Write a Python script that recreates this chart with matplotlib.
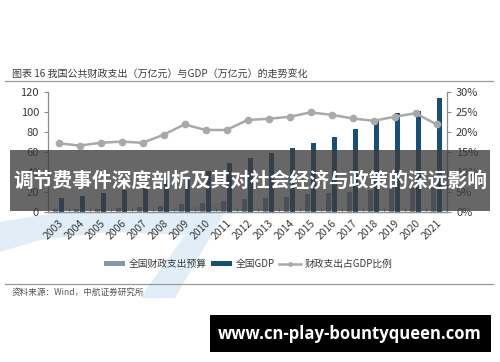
import matplotlib
matplotlib.use('Agg')
import matplotlib.pyplot as plt
import numpy as np
from matplotlib.patches import Rectangle, Polygon
from matplotlib.ticker import FuncFormatter

plt.rcParams['font.family'] = ['Noto Sans CJK SC', 'DejaVu Sans']

# values
years = [str(y) for y in range(2003, 2022)]
fiscal = [2.5, 2.8, 3.4, 4.0, 5.0, 6.3, 7.6, 9.0, 10.9, 12.6, 14.0, 15.2,
          17.6, 18.8, 20.3, 22.1, 23.9, 24.6, 24.6]
gdp = [14.0, 16.3, 18.7, 21.9, 27.0, 31.9, 34.9, 41.2, 48.8, 53.9, 59.3, 64.3,
       68.7, 74.7, 83.0, 91.0, 98.7, 101.3, 114.3]
ratio = [17.2, 16.6, 17.3, 17.6, 17.3, 19.3, 21.9, 20.5, 20.5, 23.0, 23.3, 23.8,
         24.9, 24.3, 23.4, 22.8, 23.8, 24.7, 21.9]

W, H = 500, 362
fig = plt.figure(figsize=(W / 100, H / 100), dpi=100)


def fx(x):
    return x / W


def fy(y):
    return 1 - y / H


# light blue watermark swoosh in the background
swoosh = Polygon([(fx(0), fy(222)), (fx(60), fy(212)), (fx(140), fy(214)),
                  (fx(215), fy(203)), (fx(230), fy(203)), (fx(175), fy(298)),
                  (fx(140), fy(298)), (fx(185), fy(235)), (fx(110), fy(232)),
                  (fx(40), fy(240)), (fx(0), fy(252))],
                 closed=True, transform=fig.transFigure, facecolor='#e1eef8',
                 edgecolor='none', zorder=-1)
fig.patches.append(swoosh)

ax = fig.add_axes([fx(48), fy(212), (447 - 48) / W, (212 - 92) / H])
ax.patch.set_alpha(0)
x = np.arange(len(years))
w = 0.26
ax.bar(x - 0.14, fiscal, w, color='#8496ae', label='全国财政支出预算', zorder=2)
ax.bar(x + 0.14, gdp, w, color='#164f78', label='全国GDP', zorder=2)
ax.set_xlim(-0.5, len(years) - 0.5)
ax.set_ylim(0, 120)
ax.set_yticks(range(0, 121, 20))

ax2 = ax.twinx()
ax2.plot(x, ratio, color='#a9a9a9', lw=1.8, marker='o', ms=4.5,
         label='财政支出占GDP比例', zorder=3)
ax2.set_ylim(0, 30)
ax2.set_yticks(range(0, 31, 5))
ax2.yaxis.set_major_formatter(FuncFormatter(lambda v, p: f'{int(v)}%'))

for a in (ax, ax2):
    a.spines['top'].set_visible(False)
    for s in a.spines.values():
        s.set_color('#8c8c8c')
        s.set_linewidth(0.9)
    a.tick_params(axis='y', colors='#8c8c8c', labelcolor='#3a3a3a',
                  labelsize=8, length=3, width=0.8)
ax.spines['right'].set_visible(False)
ax2.spines['left'].set_visible(False)

ax.set_xticks(x)
ax.set_xticklabels(years, rotation=45, ha='right', rotation_mode='anchor',
                   fontsize=7.5, color='#3a3a3a')
ax.tick_params(axis='x', length=0, pad=4)
ax.set_xticks(np.arange(-0.5, len(years)), minor=True)
ax.tick_params(axis='x', which='minor', direction='in', length=3,
               color='#8c8c8c')

h1, l1 = ax.get_legend_handles_labels()
h2, l2 = ax2.get_legend_handles_labels()
fig.legend(h1 + h2, l1 + l2, loc='center', bbox_to_anchor=(fx(248), fy(264)),
           ncol=3, frameon=False, fontsize=7, handlelength=2.2,
           handleheight=0.5, handletextpad=0.4, columnspacing=0.4,
           markerscale=0.55, labelcolor='#3a3a3a')

# report header and footer
fig.text(fx(12), fy(75), '图表 16 我国公共财政支出（万亿元）与GDP（万亿元）的走势变化',
         fontsize=7.2, color='#3c3c3c', va='center')
fig.add_artist(plt.Line2D([fx(5), fx(493)], [fy(81), fy(81)], color='#9a9a9a',
                          lw=0.9, transform=fig.transFigure))
fig.add_artist(plt.Line2D([fx(5), fx(493)], [fy(284), fy(284)], color='#9a9a9a',
                          lw=0.9, transform=fig.transFigure))
fig.text(fx(12), fy(292), '资料来源：Wind，中航证券研究所', fontsize=6.2,
         color='#555555', va='center', style='italic')

# dark title banner over the chart
fig.patches.append(Rectangle((fx(10), fy(211)), (490 - 10) / W, (211 - 150) / H,
                             transform=fig.transFigure, facecolor='#3c3c3c',
                             alpha=0.78, edgecolor='none', zorder=5))
fig.text(fx(250), fy(181), '调节费事件深度剖析及其对社会经济与政策的深远影响',
         fontsize=14.2, fontweight='bold', color='white', ha='center',
         va='center', zorder=6)

# url box
fig.patches.append(Rectangle((fx(210), fy(352)), (491 - 210) / W, (352 - 315) / H,
                             transform=fig.transFigure, facecolor='black',
                             edgecolor='none', zorder=5))
fig.text(fx(350), fy(334), 'www.cn-play-bountyqueen.com', fontsize=12,
         fontweight='bold', color='white', ha='center', va='center',
         family='Open Sans', zorder=6)

fig.savefig('out.png', dpi=100)
